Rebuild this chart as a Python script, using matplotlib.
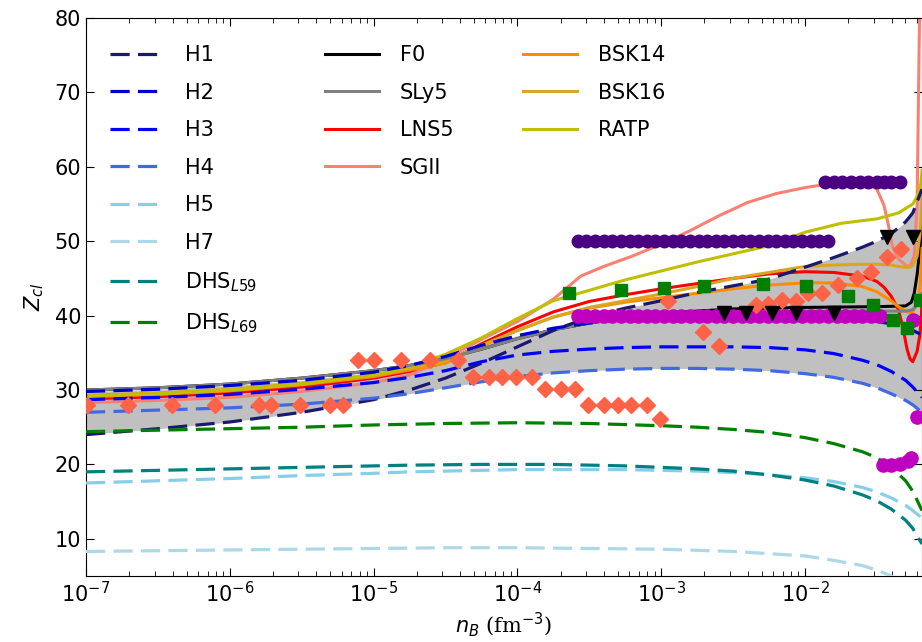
import numpy as np
import matplotlib.pyplot as plt

# ---- cluster charge Z_cl vs baryon density, log10(n_B / fm^-3) ----

# dashed models, all on one density grid
h_logn = [-7.0, -6.5, -6.0, -5.5, -5.0, -4.75, -4.5, -4.25, -4.0, -3.75, -3.5, -3.25,
          -3.0, -2.75, -2.5, -2.25, -2.0, -1.8, -1.6, -1.5, -1.4, -1.3, -1.25, -1.186]
z_h1 = [24.0, 24.8, 25.7, 27.0, 28.7, 30.0, 31.6, 33.6, 35.8, 38.0, 39.8, 41.0,
        42.0, 43.1, 44.0, 44.9, 46.5, 47.8, 49.2, 50.0, 51.0, 52.6, 53.8, 57.0]
z_h2 = [29.8, 30.1, 30.6, 31.3, 32.4, 33.3, 34.5, 36.0, 37.3, 38.3, 39.0, 39.5,
        39.8, 40.0, 40.1, 40.1, 40.0, 39.8, 39.5, 39.2, 38.9, 38.4, 38.0, 37.4]
z_h3 = [28.7, 29.0, 29.4, 30.1, 31.0, 31.7, 32.6, 33.8, 34.7, 35.2, 35.5, 35.7,
        35.8, 35.8, 35.8, 35.7, 35.4, 34.9, 34.0, 33.4, 32.5, 31.3, 30.4, 29.0]
z_h4 = [27.0, 27.3, 27.6, 28.1, 28.9, 29.5, 30.3, 31.1, 31.8, 32.3, 32.6, 32.8,
        32.9, 32.9, 32.8, 32.6, 32.2, 31.7, 30.9, 30.3, 29.5, 28.6, 28.0, 27.0]
z_h5 = [17.5, 17.8, 18.1, 18.5, 18.8, 19.0, 19.1, 19.2, 19.3, 19.3, 19.3, 19.3,
        19.2, 19.1, 18.9, 18.6, 18.2, 17.7, 16.9, 16.3, 15.5, 14.5, 13.8, 12.8]
z_h7 = [8.3, 8.4, 8.5, 8.6, 8.7, 8.75, 8.8, 8.8, 8.8, 8.75, 8.7, 8.65,
        8.6, 8.45, 8.3, 8.0, 7.7, 7.1, 6.4, 5.8, 5.0, 4.0, 3.3, 2.2]
z_dhs59 = [19.0, 19.2, 19.4, 19.6, 19.8, 19.9, 19.95, 20.0, 20.0, 20.0, 19.9, 19.8,
           19.6, 19.4, 19.1, 18.6, 17.9, 17.1, 15.9, 15.1, 14.0, 12.5, 11.4, 9.3]
z_dhs69 = [24.4, 24.6, 24.8, 25.0, 25.3, 25.4, 25.5, 25.55, 25.6, 25.55, 25.5, 25.35,
           25.2, 25.0, 24.7, 24.3, 23.6, 22.8, 21.7, 20.9, 19.6, 17.8, 16.4, 13.8]

# solid (Skyrme-type) models
f0_logn = [-7.0, -6.5, -6.0, -5.5, -5.0, -4.75, -4.5, -4.25, -4.0, -3.75, -3.5, -3.25,
           -3.0, -2.5, -2.0, -1.5, -1.3, -1.26, -1.24, -1.22, -1.2, -1.19, -1.186]
f0_z = [30.0, 30.3, 30.8, 31.6, 32.6, 33.3, 34.2, 35.5, 36.9, 38.1, 39.0, 39.7,
        40.3, 40.9, 41.1, 41.2, 41.3, 41.8, 43.0, 45.5, 49.0, 52.0, 54.0]

sly5_logn = [-7.0, -6.5, -6.0, -5.5, -5.0, -4.75, -4.5, -4.25, -4.0, -3.75, -3.5, -3.25,
             -3.0, -2.5, -2.0, -1.5, -1.3, -1.25, -1.2, -1.186]
sly5_z = [30.0, 30.3, 30.8, 31.6, 32.6, 33.3, 34.2, 35.5, 36.9, 38.1, 39.0, 39.6,
          40.0, 40.4, 40.6, 40.6, 40.6, 40.8, 42.0, 43.0]

lns5_logn = [-7.0, -6.5, -6.0, -5.5, -5.0, -4.75, -4.5, -4.25, -4.0, -3.75, -3.5, -3.25,
             -3.0, -2.75, -2.5, -2.25, -2.0, -1.8, -1.6, -1.5, -1.45, -1.4, -1.35, -1.32,
             -1.29, -1.27, -1.25, -1.22, -1.2, -1.19, -1.186]
lns5_z = [28.8, 29.1, 29.6, 30.4, 31.6, 32.5, 33.7, 36.2, 38.5, 40.5, 41.9, 42.8,
          43.6, 44.3, 45.0, 45.6, 45.9, 45.8, 45.3, 44.6, 43.8, 42.6, 40.8, 38.5,
          35.5, 34.2, 33.8, 35.2, 37.5, 40.0, 42.0]

sgii_logn = [-7.0, -6.5, -6.0, -5.5, -5.0, -4.75, -4.5, -4.25, -4.0, -3.75, -3.56, -3.4,
             -3.2, -3.0, -2.8, -2.6, -2.4, -2.2, -2.0, -1.8, -1.6, -1.5, -1.45, -1.42,
             -1.39, -1.35, -1.3, -1.27, -1.24, -1.22, -1.21, -1.2]
sgii_z = [28.3, 28.6, 29.0, 29.8, 31.0, 32.0, 34.2, 36.8, 39.2, 42.2, 45.3, 46.6,
          48.0, 49.6, 51.4, 53.4, 55.2, 56.4, 57.2, 57.8, 58.0, 57.0, 54.8, 52.2,
          49.2, 47.6, 46.8, 46.6, 48.0, 55.0, 70.0, 85.0]

bsk_logn = [-7.0, -6.5, -6.0, -5.5, -5.0, -4.75, -4.5, -4.25, -4.0, -3.75, -3.5, -3.25,
            -3.0, -2.75, -2.5, -2.25, -2.0, -1.8, -1.6, -1.5, -1.4, -1.35, -1.3, -1.27,
            -1.25, -1.22, -1.2, -1.19, -1.186]
bsk14_z = [29.1, 29.4, 29.9, 30.7, 31.8, 32.7, 33.6, 35.9, 38.0, 39.8, 41.0, 41.8,
           42.4, 43.0, 43.6, 44.1, 44.4, 44.4, 43.9, 43.2, 42.0, 41.2, 40.6, 40.4,
           40.5, 41.5, 44.0, 47.0, 49.0]
bsk16_z = [29.3, 29.6, 30.1, 30.9, 32.0, 32.9, 33.9, 36.0, 38.0, 39.8, 41.1, 42.0,
           42.9, 43.9, 45.0, 45.8, 46.6, 46.8, 46.9, 46.9, 46.8, 46.6, 46.5, 46.5,
           46.7, 48.0, 51.0, 54.0, 56.0]

ratp_logn = [-7.0, -6.5, -6.0, -5.5, -5.0, -4.75, -4.5, -4.25, -4.0, -3.75, -3.5, -3.25,
             -3.0, -2.75, -2.5, -2.25, -2.0, -1.75, -1.5, -1.35, -1.25, -1.22, -1.2,
             -1.19, -1.186]
ratp_z = [29.2, 29.5, 30.0, 30.8, 32.0, 33.1, 34.8, 37.0, 39.6, 42.0, 43.4, 44.8,
          46.0, 47.2, 48.3, 49.4, 51.2, 52.4, 53.0, 53.8, 55.0, 56.0, 57.0, 58.5, 59.5]

# point data sets
diam_logn = [-6.99, -6.71, -6.40, -6.10, -5.80, -5.71, -5.51, -5.30, -5.21,
             -5.11, -5.00, -4.81, -4.61, -4.41,
             -4.31, -4.20, -4.11, -4.01, -3.90,
             -3.81, -3.70, -3.60,
             -3.51, -3.40, -3.30, -3.21, -3.10, -3.01,
             -2.95, -2.71, -2.60, -2.34, -2.26, -2.16, -2.06, -1.98, -1.88,
             -1.77, -1.64, -1.54, -1.43, -1.33]
diam_z = [28.0, 28.0, 28.0, 28.0, 28.0, 28.0, 28.0, 28.0, 28.0,
          34.0, 34.0, 34.0, 34.0, 34.0,
          31.8, 31.8, 31.8, 31.8, 31.8,
          30.1, 30.1, 30.1,
          28.0, 28.0, 28.0, 28.0, 28.0, 26.1,
          42.0, 37.8, 35.9, 41.4, 41.6, 42.1, 42.0, 43.0, 43.0,
          44.1, 45.0, 45.9, 47.9, 48.9]

sq_logn = [-3.64, -3.28, -2.98, -2.70, -2.29, -1.99, -1.70, -1.53, -1.39, -1.29, -1.20]
sq_z = [43.1, 43.5, 43.7, 44.0, 44.2, 44.0, 42.7, 41.4, 39.4, 38.3, 42.1]

tri_logn = [-2.56, -2.41, -2.23, -2.06, -1.80, -1.43, -1.25]
tri_z = [40.3, 40.3, 40.3, 40.3, 40.3, 50.5, 50.5]

ind_logn = [-3.58, -3.52, -3.46, -3.40, -3.34, -3.28, -3.22, -3.16, -3.10, -3.04,
            -2.98, -2.92, -2.86, -2.80, -2.74, -2.68, -2.62, -2.56, -2.50, -2.44,
            -2.38, -2.32, -2.26, -2.20, -2.14, -2.08, -2.02, -1.96, -1.90, -1.84,
            -1.86, -1.80, -1.74, -1.68, -1.62, -1.56, -1.50, -1.45, -1.40, -1.34]
ind_z = [50.0, 50.0, 50.0, 50.0, 50.0, 50.0, 50.0, 50.0, 50.0, 50.0,
         50.0, 50.0, 50.0, 50.0, 50.0, 50.0, 50.0, 50.0, 50.0, 50.0,
         50.0, 50.0, 50.0, 50.0, 50.0, 50.0, 50.0, 50.0, 50.0, 50.0,
         58.0, 58.0, 58.0, 58.0, 58.0, 58.0, 58.0, 58.0, 58.0, 58.0]

mag_logn = [-3.58, -3.52, -3.46, -3.40, -3.34, -3.28, -3.22, -3.16, -3.10, -3.04,
            -2.98, -2.92, -2.86, -2.80, -2.74, -2.68, -2.62, -2.56, -2.50, -2.44,
            -2.38, -2.32, -2.26, -2.20, -2.14, -2.08, -2.02, -1.96, -1.90, -1.84,
            -1.78, -1.72, -1.66, -1.60, -1.54, -1.48, -1.25, -1.22,
            -1.46, -1.40, -1.34, -1.28, -1.26]
mag_z = [40.0, 40.0, 40.0, 40.0, 40.0, 40.0, 40.0, 40.0, 40.0, 40.0,
         40.0, 40.0, 40.0, 40.0, 40.0, 40.0, 40.0, 40.0, 40.0, 40.0,
         40.0, 40.0, 40.0, 40.0, 40.0, 40.0, 40.0, 40.0, 40.0, 40.0,
         40.0, 40.0, 40.0, 40.0, 40.0, 40.0, 39.4, 26.4,
         19.9, 19.9, 20.0, 20.5, 20.9]


def nb(logn):
    return 10.0 ** np.array(logn)


fig = plt.figure(figsize=(9.22, 6.42), dpi=100)
ax = fig.add_axes([86 / 922, 1 - 576 / 642, 836 / 922, 558 / 642])

# band spanned by H1-H4
hx = nb(h_logn)
hs = np.array([z_h1, z_h2, z_h3, z_h4])
ax.fill_between(hx, hs.min(axis=0), hs.max(axis=0), color='silver', lw=0, zorder=1)

solid = [('F0', f0_logn, f0_z, 'black'), ('SLy5', sly5_logn, sly5_z, 'gray'),
         ('LNS5', lns5_logn, lns5_z, 'red'), ('SGII', sgii_logn, sgii_z, 'salmon'),
         ('BSK14', bsk_logn, bsk14_z, 'darkorange'), ('BSK16', bsk_logn, bsk16_z, 'goldenrod'),
         ('RATP', ratp_logn, ratp_z, 'y')]
solid_handles = {}
for name, lx, z, c in solid:
    ln, = ax.plot(nb(lx), z, lw=2.2, color=c, label=name, zorder=2)
    solid_handles[name] = ln
solid_handles['SLy5'].set_zorder(2.1)

dash = (6, 2.6)
dashed = [('H1', z_h1, '#191970'), ('H2', z_h2, '#0000CD'), ('H3', z_h3, '#0000FF'),
          ('H4', z_h4, '#4169E1'), ('H5', z_h5, '#87CEEB'), ('H7', z_h7, '#ADD8E6'),
          (r'DHS$_{L59}$', z_dhs59, '#008080'), (r'DHS$_{L69}$', z_dhs69, '#008000')]
dashed_handles = []
for name, z, c in dashed:
    ln, = ax.plot(hx, z, ls='--', dashes=dash, lw=2.3, color=c, label=name, zorder=3)
    dashed_handles.append(ln)

ax.plot(nb(ind_logn), ind_z, 'o', color='indigo', ms=9, ls='none', zorder=4)
ax.plot(nb(mag_logn), mag_z, 'o', color='m', ms=9.5, ls='none', zorder=4)
ax.plot(nb(diam_logn), diam_z, 'D', color='tomato', ms=8, ls='none', zorder=5)
ax.plot(nb(sq_logn), sq_z, 's', color='green', ms=8.5, ls='none', zorder=5)
ax.plot(nb(tri_logn), tri_z, 'v', color='black', ms=10, ls='none', zorder=6)

ax.set_xscale('log')
ax.set_xlim(1e-7, 10 ** -1.186)
ax.set_ylim(5, 80)
ax.tick_params(which='both', direction='in', top=True, right=True, labelsize=15)
ax.tick_params(which='major', length=6)
ax.tick_params(which='minor', length=3.5)
ax.set_xlabel(r'$n_B$ (fm$^{-3}$)', fontsize=15, family='DejaVu Serif', labelpad=3)
ax.set_ylabel(r'$Z_{cl}$', fontsize=15, labelpad=6)

leg1 = ax.legend(handles=dashed_handles, loc='upper left', bbox_to_anchor=(0.006, 0.985),
                 frameon=False, fontsize=15, handlelength=2.6, handletextpad=1.0,
                 labelspacing=0.84)
ax.add_artist(leg1)
order = ['F0', 'SLy5', 'LNS5', 'SGII', 'BSK14', 'BSK16', 'RATP']
ax.legend(handles=[solid_handles[k] for k in order], loc='upper left',
          bbox_to_anchor=(0.263, 0.985), ncol=2, frameon=False, fontsize=15,
          handlelength=2.6, handletextpad=1.0, labelspacing=0.84, columnspacing=3.35)

fig.savefig('out.png', dpi=100)
